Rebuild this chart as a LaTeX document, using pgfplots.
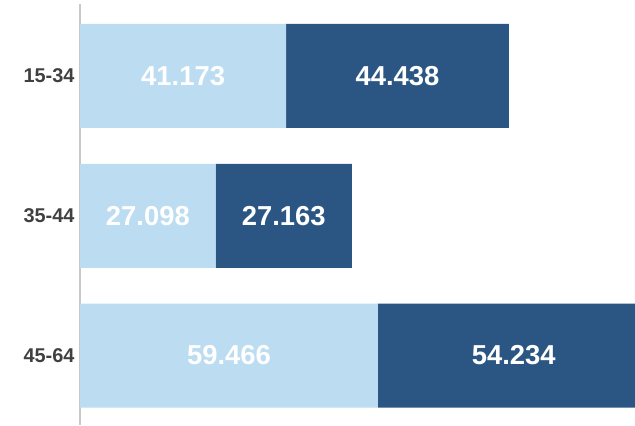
\documentclass[border=0pt]{standalone}
\usepackage{pgfplots}
\pgfplotsset{compat=1.18}
\usepackage{fontspec}
\setmainfont{Liberation Sans}

\definecolor{lightbar}{HTML}{BBDCF1}
\definecolor{darkbar}{HTML}{2B5684}
\definecolor{ticktext}{HTML}{404040}
\definecolor{axisgray}{HTML}{C8C8C8}

\begin{document}
\begin{tikzpicture}
\begin{axis}[
  scale only axis,
  width=555bp, height=421bp,
  xbar stacked,
  bar width=0.744,
  xmin=0, xmax=110.8,
  ymin=-0.515, ymax=2.497,
  y dir=reverse,
  axis x line=none,
  axis y line*=left,
  y axis line style={axisgray, line width=1.2pt},
  ytick={0,1,2},
  yticklabels={15-34,35-44,45-64},
  major tick length=0pt,
  yticklabel style={font=\fontsize{20}{22}\selectfont\bfseries, text=ticktext, xshift=-2bp},
]
  % light segment
  \addplot[fill=lightbar, draw=none] coordinates {
    (41.173,0) (27.098,1) (59.466,2)
  };
  % dark segment
  \addplot[fill=darkbar, draw=none] coordinates {
    (44.438,0) (27.163,1) (54.234,2)
  };
  % centres of the segments, for the value labels
  \coordinate (a1) at (axis cs:20.587,0);
  \coordinate (a2) at (axis cs:63.392,0);
  \coordinate (b1) at (axis cs:13.549,1);
  \coordinate (b2) at (axis cs:40.679,1);
  \coordinate (c1) at (axis cs:29.733,2);
  \coordinate (c2) at (axis cs:86.583,2);
\end{axis}
\begin{scope}[every node/.style={font=\fontsize{27.5}{30}\selectfont\bfseries, text=white, anchor=center}]
  \node at (a1) {41.173};
  \node at (a2) {44.438};
  \node at (b1) {27.098};
  \node at (b2) {27.163};
  \node at (c1) {59.466};
  \node at (c2) {54.234};
\end{scope}
\path (current axis.north west) ++(-80bp,4bp) rectangle (current axis.south east);
\end{tikzpicture}
\end{document}
